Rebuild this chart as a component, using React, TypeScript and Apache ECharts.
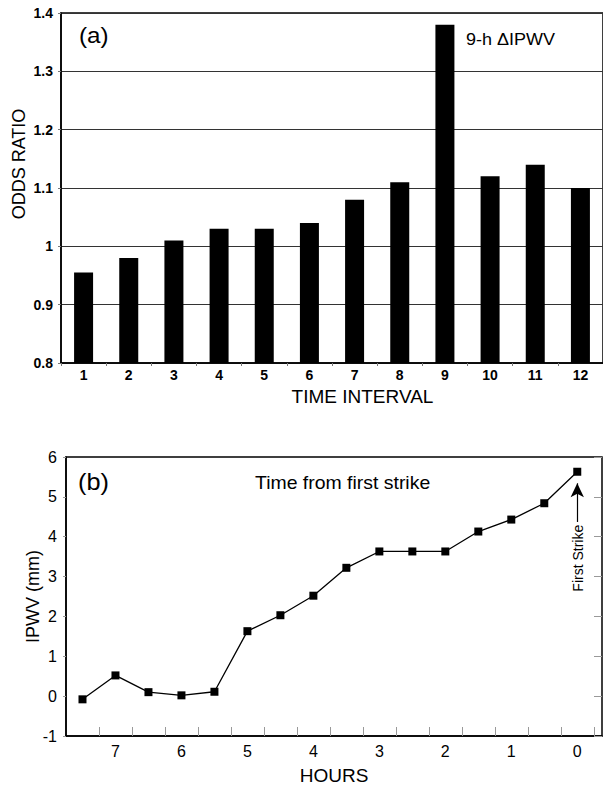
import React, { useEffect, useRef } from "react";
import * as echarts from "echarts";

const FONT = "'Liberation Sans', Arial, Helvetica, sans-serif";

// Panel (a)
const intervals = ["1", "2", "3", "4", "5", "6", "7", "8", "9", "10", "11", "12"];
const oddsRatio = [0.955, 0.98, 1.01, 1.03, 1.03, 1.04, 1.08, 1.11, 1.38, 1.12, 1.14, 1.1];

// Panel (b)
const hours = [7.5, 7, 6.5, 6, 5.5, 5, 4.5, 4, 3.5, 3, 2.5, 2, 1.5, 1, 0.5, 0];
const ipwv = [-0.08, 0.52, 0.1, 0.02, 0.11, 1.63, 2.03, 2.52, 3.22, 3.63, 3.63, 3.63, 4.13, 4.43, 4.84, 5.63];
const hourLabels = [0, 1, 2, 3, 4, 5, 6, 7];
const hourTicks = [-0.25, 0.25, 0.75, 1.25, 1.75, 2.25, 2.75, 3.25, 3.75, 4.25, 4.75, 5.25, 5.75, 6.25, 6.75, 7.25];
const arrowFrom = 4.37;
const arrowTo = 5.34;
const firstStrikeLabelAt = 3.46;

export default function App() {
  const ref = useRef<HTMLDivElement>(null);
  useEffect(() => {
    if (!ref.current) return;
    const chart = echarts.init(ref.current, null, { renderer: "svg" });
    const option: any = {
      animation: false,
      backgroundColor: "#fff",
      textStyle: { fontFamily: FONT, color: "#000" },
      grid: [
        { left: 61, top: 13, width: 547, height: 350, show: true, borderColor: "#000", borderWidth: 1.5, backgroundColor: "transparent" },
        { left: 66, top: 457, width: 536, height: 279, show: true, borderColor: "#000", borderWidth: 1.5, backgroundColor: "transparent" },
      ],
      xAxis: [
        {
          type: "category",
          gridIndex: 0,
          data: intervals,
          boundaryGap: true,
          axisLine: { onZero: false, lineStyle: { color: "#000", width: 1.5 } },
          axisTick: { show: true, alignWithLabel: false, length: 3, lineStyle: { color: "#777" } },
          axisLabel: { color: "#000", fontWeight: "bold", fontSize: 14, margin: 5, fontFamily: FONT },
          name: "TIME INTERVAL",
          nameLocation: "middle",
          nameGap: 24,
          nameMoveOverlap: false,
          nameTextStyle: { fontSize: 19, color: "#000", fontFamily: FONT, padding: [0, 0, 0, 61] },
        },
        {
          type: "value",
          gridIndex: 1,
          inverse: true,
          min: -0.375,
          max: 7.75,
          axisLine: { onZero: false, lineStyle: { color: "#000", width: 1.5 } },
          axisTick: { show: true, inside: true, length: 9, customValues: hourTicks, lineStyle: { color: "#999" } },
          axisLabel: { color: "#000", fontSize: 16, margin: 7, customValues: hourLabels, fontFamily: FONT },
          splitLine: { show: false },
          name: "HOURS",
          nameLocation: "middle",
          nameGap: 30,
          nameMoveOverlap: false,
          nameTextStyle: { fontSize: 19, color: "#000", fontFamily: FONT },
        },
      ],
      yAxis: [
        {
          type: "value",
          gridIndex: 0,
          min: 0.8,
          max: 1.4,
          interval: 0.1,
          axisLine: { show: true, onZero: false, lineStyle: { color: "#000", width: 1.5 } },
          axisTick: { show: true, length: 3, lineStyle: { color: "#777" } },
          axisLabel: {
            color: "#000",
            fontWeight: "bold",
            fontSize: 14,
            margin: 8,
            fontFamily: FONT,
            formatter: (v: number) => String(Number(v.toFixed(1))),
          },
          splitLine: { show: true, lineStyle: { color: "#333", width: 1 } },
          name: "ODDS RATIO",
          nameLocation: "middle",
          nameGap: 33,
          nameMoveOverlap: false,
          nameTextStyle: { fontSize: 18, color: "#000", fontFamily: FONT, padding: [0, 0, 0, 48] },
        },
        {
          type: "value",
          gridIndex: 1,
          min: -1,
          max: 6,
          interval: 1,
          axisLine: { show: true, onZero: false, lineStyle: { color: "#000", width: 1.5 } },
          axisTick: { show: true, length: 3, lineStyle: { color: "#999" } },
          axisLabel: { color: "#000", fontSize: 16, margin: 9, fontFamily: FONT },
          splitLine: { show: false },
          name: "IPWV (mm)",
          nameLocation: "middle",
          nameGap: 24,
          nameMoveOverlap: false,
          nameTextStyle: { fontSize: 18, color: "#000", fontFamily: FONT },
        },
        {
          type: "value",
          gridIndex: 1,
          position: "right",
          min: -1,
          max: 6,
          interval: 1,
          axisLine: { show: false, onZero: false },
          axisTick: { show: true, inside: true, length: 8, lineStyle: { color: "#999" } },
          axisLabel: { show: false },
          splitLine: { show: false },
        },
      ],
      series: [
        {
          type: "bar",
          xAxisIndex: 0,
          yAxisIndex: 0,
          data: oddsRatio,
          barWidth: 19,
          itemStyle: { color: "#000" },
        },
        {
          type: "line",
          xAxisIndex: 1,
          yAxisIndex: 1,
          data: hours.map((h, i) => [h, ipwv[i]]),
          symbol: "rect",
          symbolSize: 8,
          lineStyle: { color: "#000", width: 1.3 },
          itemStyle: { color: "#000" },
          markLine: {
            silent: true,
            symbol: ["none", "arrow"],
            symbolSize: [10, 14],
            lineStyle: { color: "#000", width: 1.2, type: "solid" },
            label: { show: false },
            data: [[{ coord: [0, arrowFrom] }, { coord: [0, arrowTo] }]],
          },
        },
      ],
      graphic: [
        { type: "text", x: 79, y: 35, scaleX: 1.1, style: { text: "(a)", font: `22px ${FONT}`, fill: "#000", verticalAlign: "middle" } },
        { type: "text", x: 466, y: 39, scaleX: 1.06, style: { text: "9-h \u0394IPWV", font: `17px ${FONT}`, fill: "#000", verticalAlign: "middle" } },
        { type: "text", x: 78, y: 482, scaleX: 1.1, style: { text: "(b)", font: `23px ${FONT}`, fill: "#000", verticalAlign: "middle" } },
        { type: "text", x: 255, y: 483, scaleX: 1.08, style: { text: "Time from first strike", font: `18px ${FONT}`, fill: "#000", verticalAlign: "middle" } },
      ],
    };
    chart.setOption(option);
    const p = chart.convertToPixel({ xAxisIndex: 1, yAxisIndex: 1 } as any, [0, firstStrikeLabelAt]) as number[];
    if (p) {
      chart.setOption({
        graphic: [
          ...option.graphic,
          {
            type: "text",
            x: p[0] + 1,
            y: p[1],
            rotation: Math.PI / 2,
            style: { text: "First Strike", font: `14px ${FONT}`, fill: "#000", align: "center", verticalAlign: "middle" },
          },
        ],
      });
    }
    return () => chart.dispose();
  }, []);
  return <div ref={ref} style={{ position: "absolute", left: 0, top: 0, width: 603, height: 788 }} />;
}
